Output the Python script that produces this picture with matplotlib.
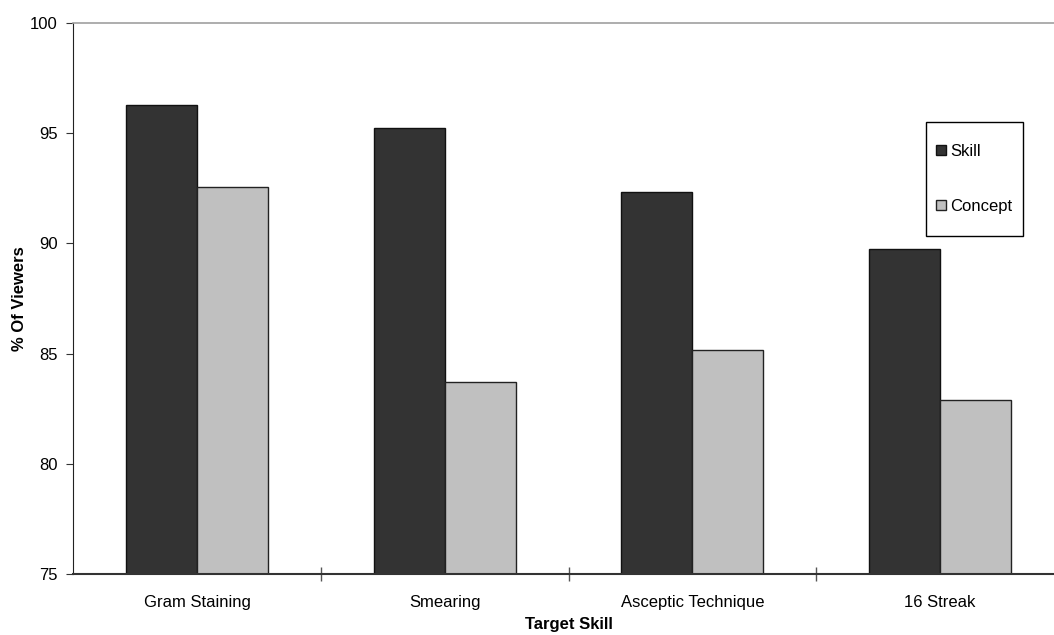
import numpy as np
import matplotlib
matplotlib.use("Agg")
import matplotlib.pyplot as plt
from matplotlib.patches import Rectangle

plt.rcParams['font.family'] = ['Liberation Sans', 'DejaVu Sans']
plt.rcParams['font.size'] = 12

categories = ['Gram Staining', 'Smearing', 'Asceptic Technique', '16 Streak']
skill = [96.27, 95.24, 92.31, 89.73]
concept = [92.57, 83.72, 85.18, 82.9]

fig = plt.figure(figsize=(10.54, 6.35), dpi=100)
ax = fig.add_axes([0.0695, 0.0956, 0.940, 0.8687])

x = np.arange(len(categories)) + 0.5
w = 0.2867
b1 = ax.bar(x - w/2, np.array(skill) - 75, w, bottom=75, color='#333333',
            edgecolor='#111111', linewidth=1, label='Skill')
b2 = ax.bar(x + w/2, np.array(concept) - 75, w, bottom=75, color='#c0c0c0',
            edgecolor='#222222', linewidth=1, label='Concept')

ax.set_xlim(0, len(categories))
ax.set_ylim(75, 100)
ax.set_yticks([75, 80, 85, 90, 95, 100])
ax.set_xticks(x)
ax.set_xticklabels(categories)
ax.set_xticks(np.arange(1, len(categories)), minor=True)
ax.tick_params(axis='x', which='major', length=0, pad=15)
ax.tick_params(axis='x', which='minor', direction='inout', length=10,
               color='#555555', width=1)
ax.tick_params(axis='y', direction='out', length=5, pad=6, color='#333333')

ax.spines['right'].set_visible(False)
ax.spines['top'].set_color('#a0a0a0')
ax.spines['top'].set_linewidth(1.2)
ax.spines['left'].set_color('#222222')
ax.spines['bottom'].set_color('#333333')
ax.spines['bottom'].set_linewidth(1.5)

ax.set_xlabel('Target Skill', fontweight='bold', labelpad=5)
ax.set_ylabel('% Of Viewers', fontweight='bold', labelpad=2)

# legend box
fig.patches.append(Rectangle((925.7/1054, 1 - 236/635), 97/1054, 114.3/635,
                             transform=fig.transFigure, facecolor='white',
                             edgecolor='black', linewidth=1, zorder=5))
fig.legend(handles=[b1, b2], loc='center', bbox_to_anchor=(0.9243, 0.7183),
           frameon=False, labelspacing=2.4, handlelength=0.6, handleheight=0.6,
           handletextpad=0.2)

fig.savefig('out.png', dpi=100)
